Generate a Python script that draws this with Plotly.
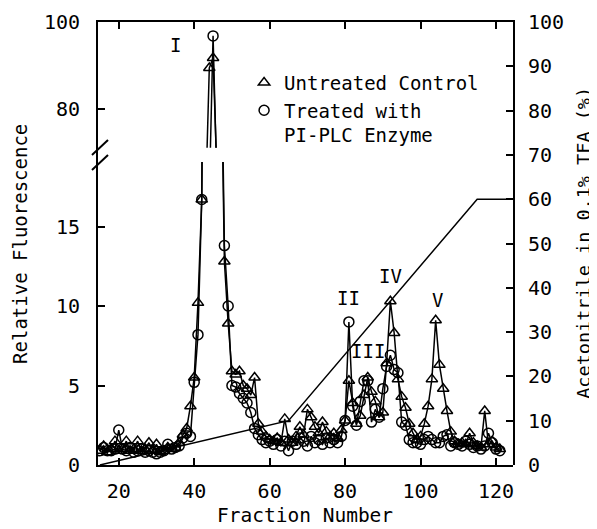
import plotly.graph_objects as go

# ---------------- data ----------------
fractions = list(range(15, 122))

control = [
    0.9, 1.2, 0.8, 1.0, 1.5, 0.9, 1.0, 1.5, 0.9, 1.0,
    1.5, 0.9, 1.0, 1.4, 0.9, 1.3, 0.8, 0.9, 1.1, 1.0,
    1.1, 1.4, 1.9, 2.3, 3.7, 5.5, 10.2, 16.7, 58.0, 89.4,
    91.7, 66.0, 28.0, 12.8, 8.9, 5.9, 5.7, 5.9, 5.0, 4.8,
    4.4, 5.5, 2.6, 2.1, 1.8, 1.6, 1.5, 1.7, 1.4, 2.9,
    1.6, 1.4, 1.8, 2.4, 1.9, 3.5, 3.0, 2.4, 2.0, 2.7,
    2.1, 1.8, 2.0, 1.7, 2.2, 2.8, 5.3, 3.9, 2.6, 3.1,
    4.4, 5.5, 4.6, 4.0, 3.0, 3.3, 6.4, 10.3, 8.3, 5.4,
    4.3, 3.6, 2.6, 2.0, 1.6, 1.8, 2.6, 3.7, 5.4, 9.1,
    6.3, 4.8, 3.4, 2.1, 1.5, 1.3, 1.4, 1.3, 2.0, 1.4,
    1.2, 1.1, 3.4, 1.3, 1.5, 1.1, 1.0,
]

treated = [
    0.9, 1.1, 0.9, 0.9, 1.0, 2.2, 1.0, 0.9, 1.1, 0.8,
    0.9, 1.0, 0.8, 0.9, 0.8, 0.7, 0.8, 0.9, 1.3, 1.0,
    1.1, 1.2, 1.7, 2.0, 1.8, 5.2, 8.2, 16.7, 35.0, 60.0,
    96.8, 66.0, 30.0, 13.8, 10.0, 5.0, 4.9, 4.5, 4.2, 3.9,
    3.3, 2.3, 1.9, 1.6, 1.4, 1.5, 1.3, 1.6, 1.2, 1.5,
    0.9, 1.5, 1.3, 1.7, 1.5, 1.2, 1.8, 1.4, 1.6, 1.3,
    1.7, 1.4, 1.6, 1.4, 1.8, 2.8, 9.0, 3.7, 2.5, 4.0,
    5.3, 5.3, 2.7, 3.5, 3.0, 4.8, 6.2, 6.9, 6.0, 5.8,
    2.7, 2.5, 1.6, 1.4, 1.4, 1.3, 1.6, 1.8, 1.6, 1.4,
    1.4, 1.8, 1.9, 1.2, 1.4, 1.3, 1.2, 1.5, 1.3, 1.1,
    1.2, 1.0, 1.2, 2.0, 1.4, 1.0, 0.9,
]

gradient_frac = [15, 65, 115, 125]
gradient_pct = [0, 10, 60, 60]

peak_names = ["I", "II", "III", "IV", "V"]
peak_x = [35, 80.8, 86.1, 91.9, 104.4]
peak_y = [94.7, 10.5, 7.2, 11.9, 10.4]
peak_axis = ["y3", "y", "y", "y", "y"]

x_ticks = [20, 40, 60, 80, 100, 120]
lower_ticks = [0, 5, 10, 15]
upper_ticks = [80, 100]
right_ticks = list(range(0, 101, 10))

# ---------------- figure ----------------
FONT = "DejaVu Sans Mono"
BLACK = "black"

fig = go.Figure()

line_style = dict(color=BLACK, width=1.5)
tri_marker = dict(symbol="triangle-up-open", size=10, color=BLACK, line=dict(width=1.5, color=BLACK))
circ_marker = dict(symbol="circle-open", size=10, color=BLACK, line=dict(width=1.5, color=BLACK))

for yax in ["y", "y3"]:
    fig.add_trace(go.Scatter(x=fractions, y=control, mode="lines+markers", xaxis="x", yaxis=yax,
                             line=line_style, marker=tri_marker, showlegend=False,
                             name="Untreated Control"))
    fig.add_trace(go.Scatter(x=fractions, y=treated, mode="lines+markers", xaxis="x", yaxis=yax,
                             line=line_style, marker=circ_marker, showlegend=False,
                             name="Treated with PI-PLC Enzyme"))

fig.add_trace(go.Scatter(x=gradient_frac, y=gradient_pct, mode="lines", xaxis="x2", yaxis="y2",
                         line=dict(color=BLACK, width=1.5), showlegend=False, name="Acetonitrile"))

# legend entries (marker only)
fig.add_trace(go.Scatter(x=[None], y=[None], mode="markers", marker=tri_marker,
                         name="Untreated Control", showlegend=True))
fig.add_trace(go.Scatter(x=[None], y=[None], mode="markers", marker=circ_marker,
                         name="Treated with<br>PI-PLC Enzyme", showlegend=True))

axis_common = dict(showgrid=False, zeroline=False, ticks="inside", ticklen=7, tickwidth=1.5,
                   tickcolor=BLACK, showline=True, linewidth=2, linecolor=BLACK,
                   automargin=False,
                   tickfont=dict(family=FONT, size=20, color=BLACK))

fig.update_layout(
    width=589, height=521,
    margin=dict(l=90, r=84, t=14, b=64, autoexpand=False),
    paper_bgcolor="white", plot_bgcolor="rgba(0,0,0,0)",
    font=dict(family=FONT, size=19, color=BLACK),
    xaxis=dict(domain=[0, 1], range=[14.5, 124.5], anchor="y", tickvals=x_ticks,
               ticklabelstandoff=7, **axis_common),
    xaxis2=dict(overlaying="x", matches="x", anchor="y2", side="top", tickvals=x_ticks,
                showticklabels=False, **axis_common),
    yaxis=dict(domain=[0, 0.684], range=[0, 19.06], anchor="x", tickvals=lower_ticks,
               ticklabelstandoff=12, **axis_common),
    yaxis3=dict(domain=[0.716, 1], range=[71, 100], anchor="x", tickvals=upper_ticks,
                ticklabelstandoff=12, **axis_common),
    yaxis2=dict(domain=[0, 1], range=[0, 100], anchor="x2", side="right", tickvals=right_ticks,
                mirror=True, ticklabelstandoff=9, **axis_common),
    legend=dict(x=0.352, y=0.906, xanchor="left", yanchor="top", bgcolor="rgba(0,0,0,0)",
                font=dict(family=FONT, size=19, color=BLACK), tracegroupgap=0, itemwidth=30,
                valign="top"),
    showlegend=True,
)

# peak labels
for name, px, py, ya in zip(peak_names, peak_x, peak_y, peak_axis):
    fig.add_annotation(x=px, y=py, xref="x", yref=ya, text=name, showarrow=False,
                       xanchor="center", yanchor="middle",
                       font=dict(family=FONT, size=19, color=BLACK))

# axis titles
fig.add_annotation(x=-0.188, y=0.499, xref="paper", yref="paper", text="Relative Fluorescence",
                   textangle=-90, showarrow=False, xanchor="center", yanchor="middle",
                   font=dict(family=FONT, size=19, color=BLACK))
fig.add_annotation(x=1.168, y=0.501, xref="paper", yref="paper", text="Acetonitrile in 0.1% TFA (%)",
                   textangle=-90, showarrow=False, xanchor="center", yanchor="middle",
                   font=dict(family=FONT, size=18.5, color=BLACK))
fig.add_annotation(x=0.499, y=-0.113, xref="paper", yref="paper", text="Fraction Number",
                   showarrow=False, xanchor="center", yanchor="middle",
                   font=dict(family=FONT, size=19.5, color=BLACK))

# axis-break marks
for y0, y1 in [(0.6659, 0.6998), (0.6998, 0.7336)]:
    fig.add_shape(type="line", xref="paper", yref="paper", x0=-0.0145, y0=y0, x1=0.0241, y1=y1,
                  line=dict(color=BLACK, width=2))

fig.write_html("out.html")
